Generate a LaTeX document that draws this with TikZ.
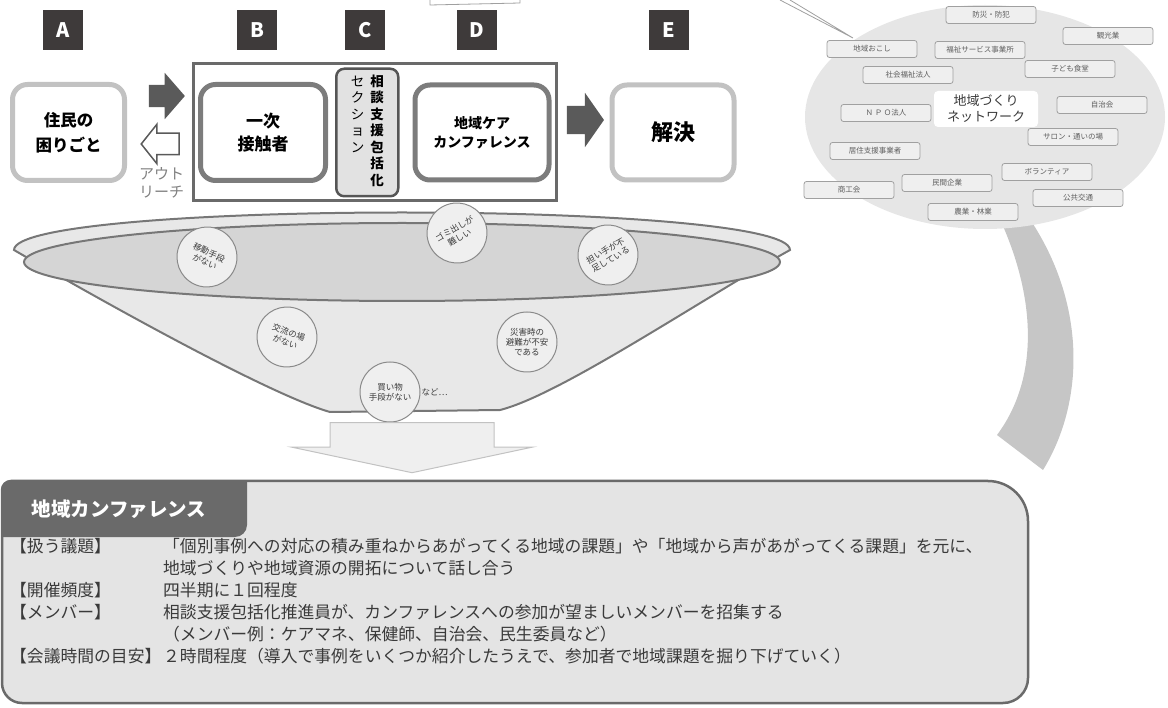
\documentclass[tikz,border=0pt]{standalone}
\usepackage{fontspec}
\setmainfont{Noto Sans CJK JP}
\usetikzlibrary{arrows.meta,positioning,calc,shapes.arrows,fit}

\definecolor{lettergray}{HTML}{3E3A3A}
\definecolor{lightrim}{HTML}{C2C2C2}
\definecolor{midrim}{HTML}{7C7C7C}
\definecolor{framegray}{HTML}{6A6A6A}
\definecolor{sectionfill}{HTML}{E2E2E2}
\definecolor{sectionrim}{HTML}{555555}
\definecolor{arrowgray}{HTML}{5A5A5A}
\definecolor{funnelfill}{HTML}{E8E8E8}
\definecolor{funnelrim}{HTML}{777777}
\definecolor{innerfill}{HTML}{D5D5D5}
\definecolor{issuefill}{HTML}{EFEFEF}
\definecolor{issuerim}{HTML}{8A8A8A}
\definecolor{darktext}{HTML}{3A3A3A}
\definecolor{netfill}{HTML}{E6E6E6}
\definecolor{netboxfill}{HTML}{EFEFEF}
\definecolor{netrim}{HTML}{A0A0A0}
\definecolor{nettext}{HTML}{5E5E5E}
\definecolor{bandgray}{HTML}{C6C6C6}
\definecolor{panelfill}{HTML}{E4E4E4}
\definecolor{paneledge}{HTML}{6A6A6A}
\definecolor{softtext}{HTML}{808080}

\begin{document}
\begin{tikzpicture}[
        x=1pt, y=1pt,
        letter/.style={fill=lettergray, text=white, minimum size=40pt, inner sep=0pt, font=\fontsize{20}{20}\selectfont\bfseries},
        stage/.style={draw=#1, line width=5pt, rounded corners=15pt, fill=white, inner sep=0pt, align=center, minimum width=112pt, minimum height=96pt},
        frame/.style={draw=framegray, line width=3pt, inner xsep=5pt, inner ysep=3.5pt},
        netbox/.style={draw=netrim, fill=netboxfill, rounded corners=2.5pt, line width=0.8pt, minimum width=90pt, minimum height=17pt, inner sep=0pt, text=nettext, font=\fontsize{7.5}{8}\selectfont},
        issue/.style={circle, draw=issuerim, fill=issuefill, line width=1pt, minimum size=60pt, inner sep=0pt, align=center, text=darktext, font=\fontsize{8.5}{10}\selectfont},
        fatarrow/.style={single arrow, fill=arrowgray, inner xsep=0pt},
        hollowarrow/.style={single arrow, draw=#1, line width=1.5pt, inner xsep=0pt}
    ]
        \useasboundingbox (0,0) rectangle (1168,-708);

        % steps A to E
        \node[letter] (labA) at (63,-30) {A};
        \node[letter] (labB) at (257,-30) {B};
        \node[letter] (labC) at (365,-30) {C};
        \node[letter] (labD) at (477,-30) {D};
        \node[letter] (labE) at (669,-30) {E};

        \node[stage=lightrim, font=\fontsize{16.5}{25}\selectfont\bfseries] (resident) at (68.5,-132.5) {住民の\\困りごと};
        \node[stage=midrim, right=71pt of resident, minimum width=125pt, font=\fontsize{17}{23}\selectfont\bfseries] (contact) {一次\\接触者};
        \node[right=7pt of contact, draw=sectionrim, fill=sectionfill, line width=2.5pt, rounded corners=8pt, minimum width=62pt, minimum height=127.5pt, inner sep=0pt] (section) {%
            \fontsize{13.5}{16.3}\selectfont
            \begin{tabular}{@{}c@{\hspace{6pt}}c@{}}
                セ & \textbf{相}\\ ク & \textbf{談}\\ シ & \textbf{支}\\ ョ & \textbf{援}\\ ン & \textbf{包}\\ & \textbf{括}\\ & \textbf{化}
            \end{tabular}};
        \node[stage=midrim, right=13pt of section, minimum width=134pt, minimum height=95pt, font=\fontsize{14}{19}\selectfont\bfseries] (conf) {地域ケア\\カンファレンス};
        \node[stage=lightrim, right=58pt of conf, minimum width=122pt, minimum height=95pt, font=\fontsize{22}{22}\selectfont\bfseries] (solve) {解決};
        \node[frame, fit=(contact)(section)(conf)] (frame) {};

        % block arrows between the steps
        \node[fatarrow, inner ysep=11pt, minimum height=36pt, single arrow head extend=12pt, single arrow tip angle=98] (push) at (162,-96) {};
        \node[hollowarrow=arrowgray, fill=white, rotate=180, inner ysep=10pt, minimum height=38pt, single arrow head extend=9pt, single arrow tip angle=103] (back) at (164.5,-144) {};
        \node[anchor=north west, align=left, inner sep=0pt, text=softtext, font=\fontsize{15}{18}\selectfont] (outreach) at (139,-167) {アウト\\リーチ};
        \node[fatarrow, inner ysep=14pt, minimum height=37pt, single arrow head extend=13pt, single arrow tip angle=110] (toward) at (580.5,-120) {};

        % funnel of local issues
        \draw[draw=funnelrim, fill=funnelfill, line width=2pt]
            (14,-250) .. controls (14,-200) and (790,-200) .. (790,-250)
            .. controls (700,-300) and (560,-395) .. (500,-410) -- (330,-412)
            .. controls (270,-395) and (100,-300) .. (14,-250) -- cycle;
        \draw[draw=funnelrim, fill=innerfill, line width=2pt] (402,-262) ellipse[x radius=378, y radius=39];

        \node[issue, rotate=-25] (move) at (207,-257) {移動手段\\がない};
        \node[issue, rotate=30] (garbage) at (457,-233) {ゴミ出しが\\難しい};
        \node[issue, rotate=30] (bearer) at (608,-255) {担い手が不\\足している};
        \node[issue, rotate=-20] (exchange) at (287,-337) {交流の場\\がない};
        \node[issue] (disaster) at (527,-342) {災害時の\\避難が不安\\である};
        \node[issue] (shopping) at (390,-392) {買い物\\手段がない};
        \node[right=1pt of shopping, text=darktext, font=\fontsize{8.5}{10}\selectfont, inner sep=0pt] (etc) {など…};

        \node[hollowarrow=lightrim, fill=issuefill, line width=1pt, rotate=-90, inner ysep=81.5pt, minimum height=50pt, single arrow head extend=38.5pt, single arrow tip angle=156] (down) at (412,-439) {};

        % network of the area
        \draw[draw=netrim, fill=white, line width=0.8pt] (430,0) -- (430,-5) -- (520,-3) -- (520,0);
        \fill[bandgray] (998,-215) .. controls (1038,-300) and (1038,-380) .. (997,-435)
            -- (1043,-470) .. controls (1086,-400) and (1086,-300) .. (1027,-215) -- cycle;
        \draw[draw=netrim, fill=white, line width=0.8pt] (790,0) -- (853,-38) -- (780,0);
        \fill[netfill] (985,-117) ellipse[x radius=180, y radius=112];

        \node[fill=white, rounded corners=4pt, minimum width=104pt, minimum height=36pt, inner sep=0pt, align=center, text=darktext, font=\fontsize{13}{16}\selectfont] (network) at (986,-109) {地域づくり\\ネットワーク};
        \node[netbox] (crime) at (991,-15) {防災・防犯};
        \node[netbox] (tourism) at (1108,-36) {観光業};
        \node[netbox] (revival) at (872,-49) {地域おこし};
        \node[netbox] (welfare) at (980,-50) {福祉サービス事業所};
        \node[netbox] (kids) at (1070,-69) {子ども食堂};
        \node[netbox] (social) at (908,-75) {社会福祉法人};
        \node[netbox] (council) at (1102,-105) {自治会};
        \node[netbox] (npo) at (886,-113) {Ｎ Ｐ Ｏ法人};
        \node[netbox] (salon) at (1073,-137) {サロン・通いの場};
        \node[netbox] (housing) at (875,-151) {居住支援事業者};
        \node[netbox] (volunteer) at (1047,-172) {ボランティア};
        \node[netbox] (firms) at (947,-183) {民間企業};
        \node[netbox] (commerce) at (849,-190) {商工会};
        \node[netbox] (transit) at (1078,-198) {公共交通};
        \node[netbox] (farming) at (973,-212) {農業・林業};

        % area conference panel
        \draw[draw=paneledge, fill=panelfill, line width=2.5pt]
            (2,-490) arc[start angle=180, end angle=90, radius=9] -- (988,-481)
            arc[start angle=90, end angle=0, radius=40] -- (1028,-678)
            arc[start angle=0, end angle=-90, radius=25] -- (22,-703)
            arc[start angle=270, end angle=180, radius=20] -- cycle;
        \fill[paneledge] (2,-490) arc[start angle=180, end angle=90, radius=9] -- (247,-481)
            -- (247,-525) arc[start angle=0, end angle=-90, radius=12] -- (2,-537) -- cycle;
        \node[text=white, font=\fontsize{19.5}{20}\selectfont\bfseries] (title) at (119,-509) {地域カンファレンス};
        \node[anchor=north west, align=left, inner sep=0pt, text=darktext, font=\fontsize{16.8}{22}\selectfont] (agenda) at (10,-538) {%
            \makebox[153pt][l]{【扱う議題】}「個別事例への対応の積み重ねからあがってくる地域の課題」や「地域から声があがってくる課題」を元に、\\
            \makebox[153pt][l]{}地域づくりや地域資源の開拓について話し合う\\
            \makebox[153pt][l]{【開催頻度】}四半期に１回程度\\
            \makebox[153pt][l]{【メンバー】}相談支援包括化推進員が、カンファレンスへの参加が望ましいメンバーを招集する\\
            \makebox[153pt][l]{}（メンバー例：ケアマネ、保健師、自治会、民生委員など）\\
            \makebox[153pt][l]{【会議時間の目安】}２時間程度（導入で事例をいくつか紹介したうえで、参加者で地域課題を掘り下げていく）};
    \end{tikzpicture}
\end{document}
